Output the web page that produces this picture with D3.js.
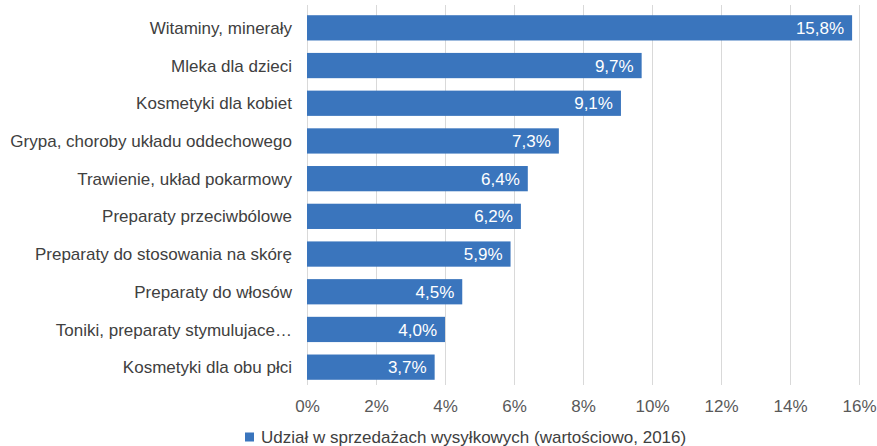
<!DOCTYPE html>
<html>
<head>
<meta charset="utf-8">
<script src="https://cdn.jsdelivr.net/npm/d3@7"></script>
<style>
  body { margin: 0; background: #fff; }
  text { font-family: "Liberation Sans", Arial, sans-serif; }
</style>
</head>
<body>
<svg id="chart" width="877" height="446"></svg>
<script>
let categories = [
        "Witaminy, minerały",
        "Mleka dla dzieci",
        "Kosmetyki dla kobiet",
        "Grypa, choroby układu oddechowego",
        "Trawienie, układ pokarmowy",
        "Preparaty przeciwbólowe",
        "Preparaty do stosowania na skórę",
        "Preparaty do włosów",
        "Toniki, preparaty stymulujace…",
        "Kosmetyki dla obu płci"
];
let values = [15.8, 9.7, 9.1, 7.3, 6.4, 6.2, 5.9, 4.5, 4.0, 3.7];
let ticks = [0, 2, 4, 6, 8, 10, 12, 14, 16];
let seriesName = "Udział w sprzedażach wysyłkowych (wartościowo, 2016)";

let plotLeft = 307, plotRight = 859, plotTop = 9, plotBottom = 386;
let color = "#3a75bd";
let fontSize = "17px";
let fmt = v => d3.format(".1f")(v).replace(".", ",") + "%";

let svg = d3.select("#chart");

let x = d3.scaleLinear().domain([0, 16]).range([plotLeft, plotRight]);
let y = d3.scaleBand().domain(categories).range([plotTop, plotBottom]).paddingInner(0.33).paddingOuter(0.165);

// gridlines
svg.append("g")
        .selectAll("line")
        .data(ticks)
        .join("line")
        .attr("x1", d => x(d) + 0.5)
        .attr("x2", d => x(d) + 0.5)
        .attr("y1", 5)
        .attr("y2", 385)
        .attr("stroke", "#d9d9d9")
        .attr("stroke-width", 1);

// bars
svg.append("g")
        .selectAll("rect")
        .data(values)
        .join("rect")
        .attr("x", x(0))
        .attr("y", (d, i) => y(categories[i]))
        .attr("width", d => x(d) - x(0))
        .attr("height", y.bandwidth())
        .attr("fill", color);

// value labels
svg.append("g")
        .selectAll("text")
        .data(values)
        .join("text")
        .attr("x", d => x(d) - 8)
        .attr("y", (d, i) => y(categories[i]) + y.bandwidth() / 2)
        .attr("dy", "0.36em")
        .attr("text-anchor", "end")
        .attr("fill", "#fff")
        .style("font-size", fontSize)
        .text(d => fmt(d));

// category labels
svg.append("g")
        .selectAll("text")
        .data(categories)
        .join("text")
        .attr("x", plotLeft - 15)
        .attr("y", d => y(d) + y.bandwidth() / 2)
        .attr("dy", "0.36em")
        .attr("text-anchor", "end")
        .attr("fill", "#404040")
        .style("font-size", fontSize)
        .text(d => d);

// x axis
let axis = svg.append("g")
        .attr("transform", "translate(0,406)")
        .call(d3.axisBottom(x).tickValues(ticks).tickSize(0).tickPadding(0).tickFormat(d => d + "%"));
axis.select(".domain").remove();
axis.selectAll("text")
        .attr("fill", "#595959")
        .attr("y", 0)
        .attr("dy", "0.36em")
        .style("font-size", fontSize)
        .style("font-family", "'Liberation Sans', Arial, sans-serif");

// legend
let legend = svg.append("g").attr("transform", "translate(245,437)");
legend.append("rect")
        .attr("x", 0)
        .attr("y", -4.5)
        .attr("width", 9)
        .attr("height", 9)
        .attr("fill", color);
legend.append("text")
        .attr("x", 16)
        .attr("y", 0)
        .attr("dy", "0.36em")
        .attr("fill", "#404040")
        .style("font-size", fontSize)
        .text(seriesName);
</script>
</body>
</html>
